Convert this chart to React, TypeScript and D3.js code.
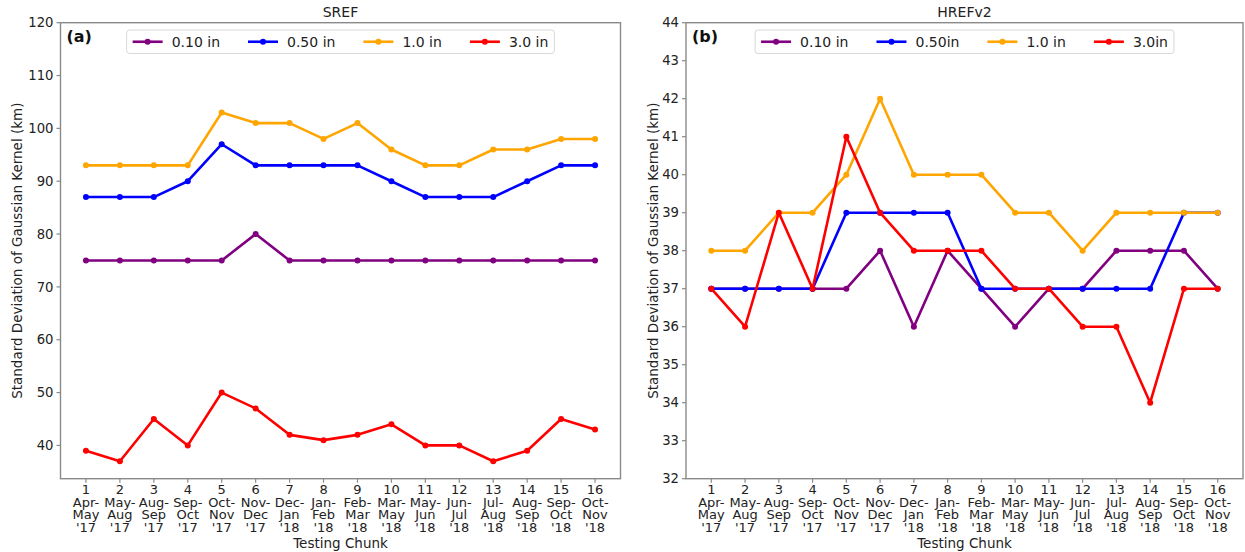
import React, { useEffect, useRef } from "react";
import * as d3 from "d3";

const chunks = [1, 2, 3, 4, 5, 6, 7, 8, 9, 10, 11, 12, 13, 14, 15, 16];
const monthStart = ["Apr-", "May-", "Aug-", "Sep-", "Oct-", "Nov-", "Dec-", "Jan-", "Feb-", "Mar-", "May-", "Jun-", "Jul-", "Aug-", "Sep-", "Oct-"];
const monthEnd = ["May", "Aug", "Sep", "Oct", "Nov", "Dec", "Jan", "Feb", "Mar", "May", "Jun", "Jul", "Aug", "Sep", "Oct", "Nov"];
const years = ["'17", "'17", "'17", "'17", "'17", "'17", "'18", "'18", "'18", "'18", "'18", "'18", "'18", "'18", "'18", "'18"];

const seriesColors = ["purple", "blue", "orange", "red"];

// SREF
const srefLabels = ["0.10 in", "0.50 in", "1.0 in", "3.0 in"];
const sref010 = [75, 75, 75, 75, 75, 80, 75, 75, 75, 75, 75, 75, 75, 75, 75, 75];
const sref050 = [87, 87, 87, 90, 97, 93, 93, 93, 93, 90, 87, 87, 87, 90, 93, 93];
const sref10 = [93, 93, 93, 93, 103, 101, 101, 98, 101, 96, 93, 93, 96, 96, 98, 98];
const sref30 = [39, 37, 45, 40, 50, 47, 42, 41, 42, 44, 40, 40, 37, 39, 45, 43];
const srefTicks = [40, 50, 60, 70, 80, 90, 100, 110, 120];

// HREFv2
const hrefLabels = ["0.10 in", "0.50in", "1.0 in", "3.0in"];
const href010 = [37, 37, 37, 37, 37, 38, 36, 38, 37, 36, 37, 37, 38, 38, 38, 37];
const href050 = [37, 37, 37, 37, 39, 39, 39, 39, 37, 37, 37, 37, 37, 37, 39, 39];
const href10 = [38, 38, 39, 39, 40, 42, 40, 40, 40, 39, 39, 38, 39, 39, 39, 39];
const href30 = [37, 36, 39, 37, 41, 39, 38, 38, 38, 37, 37, 36, 36, 34, 37, 37];
const hrefTicks = [32, 33, 34, 35, 36, 37, 38, 39, 40, 41, 42, 43, 44];

const FONT = "'DejaVu Sans', sans-serif";
const TEXT = "#222";
const SPINE = "#8a8a8a";

type Panel = {
  left: number;
  right: number;
  top: number;
  bottom: number;
  yDomain: [number, number];
  yTicks: number[];
  title: string;
  tag: string;
  labels: string[];
  series: number[][];
  yLabelX: number;
};

const panels: Panel[] = [
  {
    left: 60.5, right: 620.5, top: 22.7, bottom: 478.7,
    yDomain: [33.7, 120], yTicks: srefTicks, title: "SREF", tag: "(a)",
    labels: srefLabels, series: [sref010, sref050, sref10, sref30], yLabelX: 17,
  },
  {
    left: 686, right: 1243, top: 22.7, bottom: 478.7,
    yDomain: [32, 44], yTicks: hrefTicks, title: "HREFv2", tag: "(b)",
    labels: hrefLabels, series: [href010, href050, href10, href30], yLabelX: 653,
  },
];

export default function App() {
  const ref = useRef<SVGSVGElement>(null);

  useEffect(() => {
    const svg = d3.select(ref.current);
    svg.selectAll("*").remove();

    panels.forEach((p) => {
      const g = svg.append("g");
      const x = d3.scaleLinear().domain([0.25, 16.75]).range([p.left, p.right]);
      const y = d3.scaleLinear().domain(p.yDomain).range([p.bottom, p.top]);

      // frame
      g.append("rect")
        .attr("x", p.left).attr("y", p.top)
        .attr("width", p.right - p.left).attr("height", p.bottom - p.top)
        .attr("fill", "white").attr("stroke", SPINE).attr("stroke-width", 1.4);

      // y ticks
      p.yTicks.forEach((t) => {
        g.append("line").attr("x1", p.left - 4).attr("x2", p.left)
          .attr("y1", y(t)).attr("y2", y(t)).attr("stroke", SPINE).attr("stroke-width", 1.2);
        g.append("text").attr("x", p.left - 7).attr("y", y(t)).attr("dy", "0.35em")
          .attr("text-anchor", "end").attr("font-family", FONT).attr("font-size", 13.2)
          .attr("fill", TEXT).text(String(t));
      });

      // x ticks
      chunks.forEach((c, i) => {
        const cx = x(c);
        g.append("line").attr("x1", cx).attr("x2", cx)
          .attr("y1", p.bottom).attr("y2", p.bottom + 4).attr("stroke", SPINE).attr("stroke-width", 1.2);
        const lines = [String(c), monthStart[i], monthEnd[i], years[i]];
        lines.forEach((s, k) => {
          g.append("text").attr("x", cx).attr("y", p.bottom + 10.5 + k * 12.8).attr("dy", "0.35em")
            .attr("text-anchor", "middle").attr("font-family", FONT).attr("font-size", 13)
            .attr("fill", TEXT).text(s);
        });
      });

      // axis labels & title
      g.append("text").attr("x", (p.left + p.right) / 2).attr("y", 543).attr("dy", "0.35em")
        .attr("text-anchor", "middle").attr("font-family", FONT).attr("font-size", 13.5)
        .attr("fill", TEXT).text("Testing Chunk");
      g.append("text")
        .attr("transform", `translate(${p.yLabelX},${(p.top + p.bottom) / 2}) rotate(-90)`)
        .attr("dy", "0.35em").attr("text-anchor", "middle").attr("font-family", FONT)
        .attr("font-size", 13.5).attr("fill", TEXT)
        .text("Standard Deviation of Gaussian Kernel (km)");
      g.append("text").attr("x", (p.left + p.right) / 2).attr("y", 12).attr("dy", "0.35em")
        .attr("text-anchor", "middle").attr("font-family", FONT).attr("font-size", 14)
        .attr("fill", TEXT).text(p.title);
      g.append("text").attr("x", p.left + 6).attr("y", 36).attr("dy", "0.35em")
        .attr("font-family", FONT).attr("font-size", 16).attr("font-weight", "bold")
        .attr("fill", "#111").text(p.tag);

      // series
      const line = d3.line<number>().x((_, i) => x(chunks[i])).y((v) => y(v));
      p.series.forEach((vals, si) => {
        g.append("path").attr("d", line(vals) || "").attr("fill", "none")
          .attr("stroke", seriesColors[si]).attr("stroke-width", 2.6)
          .attr("stroke-linejoin", "round");
        g.selectAll(null).data(vals).enter().append("circle")
          .attr("cx", (_, i) => x(chunks[i])).attr("cy", (v) => y(v)).attr("r", 3)
          .attr("fill", seriesColors[si]);
      });

      // legend
      const lg = g.append("g");
      const box = lg.append("rect");
      const handle = 30, gap = 9, colSpace = 28, pad = 6;
      let cursor = 0;
      p.labels.forEach((lab, si) => {
        const eg = lg.append("g");
        eg.append("line").attr("x1", 0).attr("x2", handle).attr("y1", 0).attr("y2", 0)
          .attr("stroke", seriesColors[si]).attr("stroke-width", 2.6);
        eg.append("circle").attr("cx", handle / 2).attr("cy", 0).attr("r", 3).attr("fill", seriesColors[si]);
        const t = eg.append("text").attr("x", handle + gap).attr("y", 0).attr("dy", "0.35em")
          .attr("font-family", FONT).attr("font-size", 14).attr("fill", TEXT).text(lab);
        const tw = (t.node() as SVGTextElement).getComputedTextLength();
        eg.attr("data-x", cursor);
        cursor += handle + gap + tw + colSpace;
      });
      const totalW = cursor - colSpace + pad * 2;
      const bx = (p.left + p.right) / 2 - totalW / 2;
      const by = 30;
      const bh = 23.5;
      box.attr("x", bx).attr("y", by).attr("width", totalW).attr("height", bh)
        .attr("rx", 3).attr("fill", "white").attr("fill-opacity", 0.85)
        .attr("stroke", "#d8d8d8").attr("stroke-width", 1);
      lg.selectAll<SVGGElement, unknown>("g").each(function () {
        const gx = Number(d3.select(this).attr("data-x"));
        d3.select(this).attr("transform", `translate(${bx + pad + gx},${by + bh / 2})`);
      });
    });
  }, []);

  return (
    <svg
      ref={ref}
      width={1245}
      height={552}
      style={{ position: "absolute", left: 0, top: 0, background: "white", display: "block" }}
    />
  );
}
